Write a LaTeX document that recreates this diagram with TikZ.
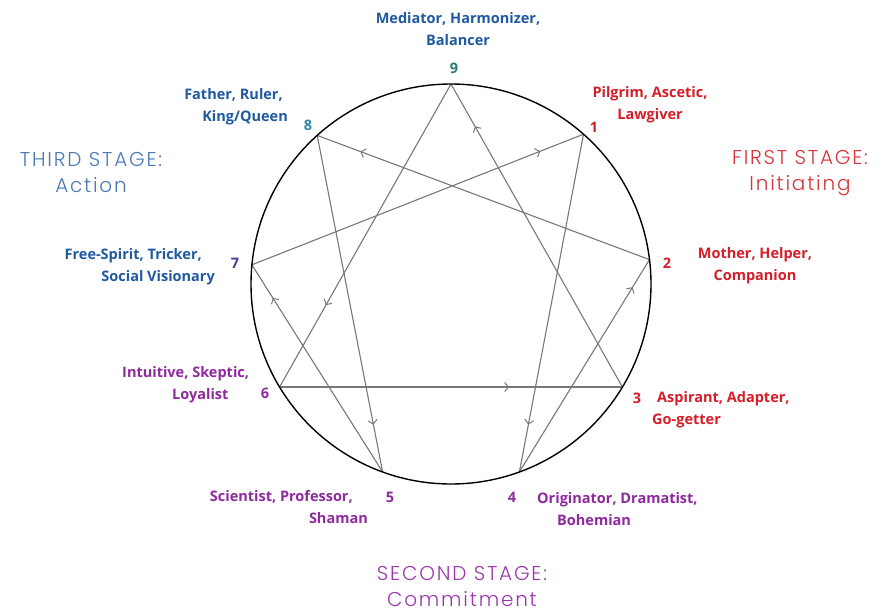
\documentclass[tikz,border=0pt]{standalone}
\usepackage{fontspec}
\usetikzlibrary{arrows.meta,decorations.markings}
\IfFontExistsTF{Poppins Light}{\newfontfamily\stagefont{Poppins Light}[LetterSpace=9]}{\newfontfamily\stagefont{Poppins}[LetterSpace=9]}
\IfFontExistsTF{Open Sans SemiBold}{\newfontfamily\labfont{Open Sans SemiBold}}{\newfontfamily\labfont{Open Sans Bold}}
\definecolor{labblue}{RGB}{31,90,160}
\definecolor{labred}{RGB}{214,30,40}
\definecolor{labpurple}{RGB}{142,42,158}
\definecolor{stageblue}{RGB}{74,122,181}
\definecolor{stagered}{RGB}{216,52,60}
\definecolor{stagepurple}{RGB}{154,58,170}
\definecolor{tealnine}{RGB}{42,122,112}
\definecolor{tealeight}{RGB}{42,138,165}
\definecolor{numseven}{RGB}{74,60,140}
\definecolor{linegray}{RGB}{120,120,120}
\begin{document}
\begin{tikzpicture}[x=1pt,y=-1pt,
  conn/.style={draw,color=linegray,line width=1.1pt},
  mk/.style={postaction={decorate},decoration={markings,mark=at position #1 with {\arrow{Straight Barb[length=4pt,width=9pt,line width=1pt]}}}},
  lab/.style={font=\labfont\fontsize{14.5}{22}\selectfont,inner sep=0pt},
  num/.style={font=\labfont\fontsize{14.5}{17}\selectfont,inner sep=0pt},
  stage/.style={font=\stagefont\fontsize{20}{26}\selectfont,inner sep=0pt,align=center}
]
\fill[white] (0,0) rectangle (886,613);
\useasboundingbox (0,0) rectangle (886,613);
% enneagram points
\coordinate (c) at (451,284);
\coordinate (p9) at (451,84);
\coordinate (p1) at (583.5,134.2);
\coordinate (p2) at (649.5,259.6);
\coordinate (p3) at (622.4,387);
\coordinate (p4) at (519.4,471.9);
\coordinate (p5) at (382.6,471.9);
\coordinate (p6) at (279.6,387);
\coordinate (p7) at (251.9,264.8);
\coordinate (p8) at (317.2,135.4);
% triangle
\draw[conn,mk=0.86] (p3) -- (p9);
\draw[conn,mk=0.73] (p9) -- (p6);
\draw[conn,mk=0.67] (p6) -- (p3);
% hexad
\draw[conn,mk=0.86] (p1) -- (p4);
\draw[conn,mk=0.87] (p4) -- (p2);
\draw[conn,mk=0.87] (p2) -- (p8);
\draw[conn,mk=0.86] (p8) -- (p5);
\draw[conn,mk=0.84] (p5) -- (p7);
\draw[conn,mk=0.87] (p7) -- (p1);
% circle
\draw[black,line width=1.4pt] (c) circle[radius=200pt];
% numbers
\node[num,text=tealnine] (n9) at (454,68) {9};
\node[num,text=tealeight] (n8) at (308,125) {8};
\node[num,text=labred] (n1) at (594,127) {1};
\node[num,text=labred] (n2) at (667,263) {2};
\node[num,text=labred] (n3) at (637,398) {3};
\node[num,text=labpurple] (n4) at (512,497) {4};
\node[num,text=labpurple] (n5) at (390,497) {5};
\node[num,text=labpurple] (n6) at (265,393) {6};
\node[num,text=numseven] (n7) at (235,263) {7};
% labels
\node[lab,text=labblue,align=center] (l9) at (458,29) {Mediator, Harmonizer,\\Balancer};
\node[lab,text=labblue,align=right,anchor=east] (l8) at (288,107) {Father, Ruler,\hspace*{5pt}\\King/Queen};
\node[lab,text=labred,align=center] (l1) at (650,105) {Pilgrim, Ascetic,\\Lawgiver};
\node[lab,text=labred,align=center] (l2) at (755,266) {Mother, Helper,\\Companion};
\node[lab,text=labred,align=left,anchor=west] (l3) at (652,410) {\hspace*{5pt}Aspirant, Adapter,\\Go-getter};
\node[lab,text=labpurple,align=left,anchor=west] (l4) at (537,509) {Originator, Dramatist,\\\hspace*{20pt}Bohemian};
\node[lab,text=labpurple,align=right,anchor=east] (l5) at (368,507) {Scientist, Professor,\hspace*{15pt}\\Shaman};
\node[lab,text=labpurple,align=left,anchor=west] (l6) at (122,385) {Intuitive, Skeptic,\\\hspace*{50pt}Loyalist};
\node[lab,text=labblue,align=right,anchor=east] (l7) at (215,267) {Free-Spirit, Tricker,\hspace*{13pt}\\Social Visionary};
% stages
\node[stage,text=stagered] (s1) at (800,173) {FIRST STAGE:\\Initiating};
\node[stage,text=stagepurple] (s2) at (462,587) {SECOND STAGE:\\Commitment};
\node[stage,text=stageblue] (s3) at (91,173) {THIRD STAGE:\\Action};
\end{tikzpicture}
\end{document}
